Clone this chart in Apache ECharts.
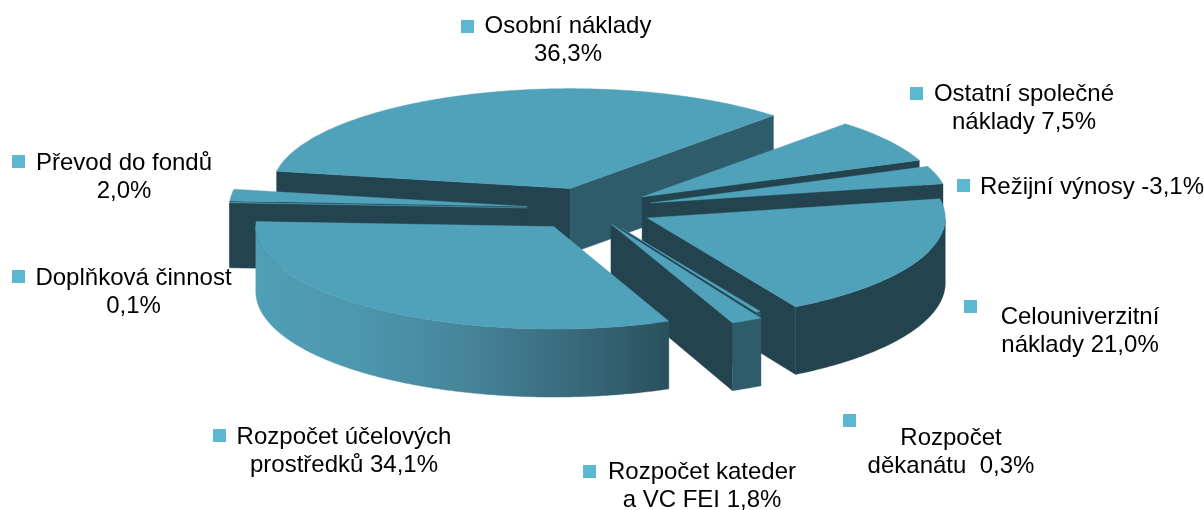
<!DOCTYPE html>
<html lang="cs">
<head>
<meta charset="utf-8">
<title>Struktura nákladů</title>
<style>
  html, body { margin: 0; background: #fff; }
  #chart { width: 1204px; height: 510px; }
</style>
</head>
<body>
<div id="chart"></div>
<script src="https://cdn.jsdelivr.net/npm/echarts@6/dist/echarts.min.js"></script>
<script>
// values in %, clockwise from the left edge of "Osobní náklady"
const categories = ['Osobní náklady', 'Ostatní společné náklady', 'Režijní výnosy', 'Celouniverzitní náklady',
  'Rozpočet děkanátu', 'Rozpočet kateder a VC FEI', 'Rozpočet účelových prostředků', 'Doplňková činnost', 'Převod do fondů']
const values = [36.3, 7.5, -3.1, 21.0, 0.3, 1.8, 34.1, 0.1, 2.0]
const labelLines = [
  ['Osobní náklady', '36,3%'],
  ['Ostatní společné', 'náklady 7,5%'],
  ['Režijní výnosy -3,1%'],
  ['Celouniverzitní', 'náklady 21,0%'],
  ['Rozpočet', 'děkanátu  0,3%'],
  ['Rozpočet kateder', 'a VC FEI 1,8%'],
  ['Rozpočet účelových', 'prostředků 34,1%'],
  ['Doplňková činnost', '0,1%'],
  ['Převod do fondů', '2,0%']
]
// slices painted back to front
const drawOrder = [0, 1, 2, 8, 7, 3, 4, 5, 6]

// swatch x, swatch y, text centre x, first line y
const labelPos = [
  [461, 20, 568, 26], [910, 87, 1024, 94], [957, 179, 1092, 187], [964, 300, 1080, 317], [843, 414, 951, 438],
  [583, 465, 702, 472], [213, 429, 344, 437], [12, 270, 133.5, 278], [12, 155, 124, 163]
]

const TOP = '#50a1ba'
const DARK = '#23434f'
const MID = '#2e5c6b'
const pie = {
  cx: 590, cy: 209, rx: 298, ryBack: 100, ryFront: 102.5, depth: 65, depthFront: 3,
  explodeX: 63, explodeY: 21.5, startAngle: 170,
  apexTail: { 5: 0.05 }, // the kateder wedge runs a bit past its own apex
  radiusScale: { 4: 0.94 } // the děkanát sliver stops short, behind the kateder wedge
}

const total = values.reduce((s, v) => s + Math.abs(v), 0)
const rad = d => d * Math.PI / 180

function sliceAngles(idx) {
  let start = pie.startAngle
  for (let i = 0; i < idx; i++) start -= Math.abs(values[i]) / total * 360
  return [start, start - Math.abs(values[idx]) / total * 360]
}

function rimPoint(apex, t, lower, scale) {
  const k = scale || 1
  const sin = Math.sin(rad(t))
  const ry = sin < 0 ? pie.ryFront : pie.ryBack
  const drop = lower ? pie.depth + pie.depthFront * Math.max(0, -sin) : 0
  return [apex[0] + k * pie.rx * Math.cos(rad(t)), apex[1] - k * ry * sin + drop]
}

function wallColor(idx, side) {
  if (idx === 0 && side === 'end') return MID
  if (side === 'outer' && (idx === 5 || idx === 4)) return MID
  if (side === 'outer' && idx === 6) {
    return new echarts.graphic.LinearGradient(0, 0, 1, 0, [
      { offset: 0, color: '#4f9fb6' },
      { offset: 0.25, color: '#4c97ae' },
      { offset: 0.5, color: '#46859a' },
      { offset: 0.75, color: '#396c7e' },
      { offset: 1, color: '#2a505e' }
    ])
  }
  return DARK
}

function renderSlice(params, api) {
  const idx = api.value(0)
  const [a0, a1] = sliceAngles(idx)
  const mid = rad((a0 + a1) / 2)
  const apex = [
    pie.cx + pie.explodeX * Math.cos(mid),
    pie.cy - pie.explodeY * Math.sin(mid)
  ]
  const tail = pie.apexTail[idx] || 0
  const scale = pie.radiusScale[idx] || 1
  const tip = [
    apex[0] - tail * pie.rx * Math.cos(mid),
    apex[1] + tail * pie.ryBack * Math.sin(mid)
  ]
  const children = []
  const add = (points, fill, z) => children.push({
    type: 'polygon',
    z2: params.dataIndex * 10 + z,
    shape: { points },
    style: { fill, stroke: fill, lineWidth: 0.4 }
  })

  // radial cut faces, only those turned to the viewer
  const wall = t => [tip, rimPoint(apex, t, false, scale), rimPoint(apex, t, true, scale), [tip[0], tip[1] + pie.depth]]
  if (Math.cos(rad(a0)) < 0) add(wall(a0), wallColor(idx, 'start'), 1)
  if (Math.cos(rad(a1)) > 0) add(wall(a1), wallColor(idx, 'end'), 2)

  // outer wall on the front half of the rim
  const front = []
  for (let t = a0; t >= a1; t -= 0.5) {
    const s = ((t % 360) + 360) % 360
    if (s > 180) front.push(t)
  }
  if (front.length) {
    front.push(Math.max(a1, front[front.length - 1] - 0.5))
    const upper = front.map(t => rimPoint(apex, t, false, scale))
    const lower = front.map(t => rimPoint(apex, t, true, scale)).reverse()
    add(upper.concat(lower), wallColor(idx, 'outer'), 3)
  }

  // top face
  const top = [tip]
  for (let t = a0; t > a1; t -= 0.5) top.push(rimPoint(apex, t, false, scale))
  top.push(rimPoint(apex, a1, false, scale))
  add(top, TOP, 4)

  return { type: 'group', children }
}

const labelGraphics = []
labelLines.forEach((lines, i) => {
  const [sx, sy, tx, ty] = labelPos[i]
  labelGraphics.push({
    type: 'rect',
    shape: { x: sx, y: sy, width: 13, height: 13 },
    style: { fill: '#5cb8d0' }
  })
  lines.forEach((line, k) => {
    labelGraphics.push({
      type: 'text',
      x: tx,
      y: ty + k * 28.3,
      style: {
        text: line,
        font: '24px "Liberation Sans", Arial, sans-serif',
        fill: '#000',
        align: 'center',
        verticalAlign: 'middle'
      }
    })
  })
})

const chart = echarts.init(document.getElementById('chart'))
chart.setOption({
  animation: false,
  graphic: labelGraphics,
  series: [{
    type: 'custom',
    coordinateSystem: 'none',
    renderItem: renderSlice,
    silent: true,
    data: drawOrder.map(i => ({ name: categories[i], value: [i, values[i]] }))
  }]
})
</script>
</body>
</html>
